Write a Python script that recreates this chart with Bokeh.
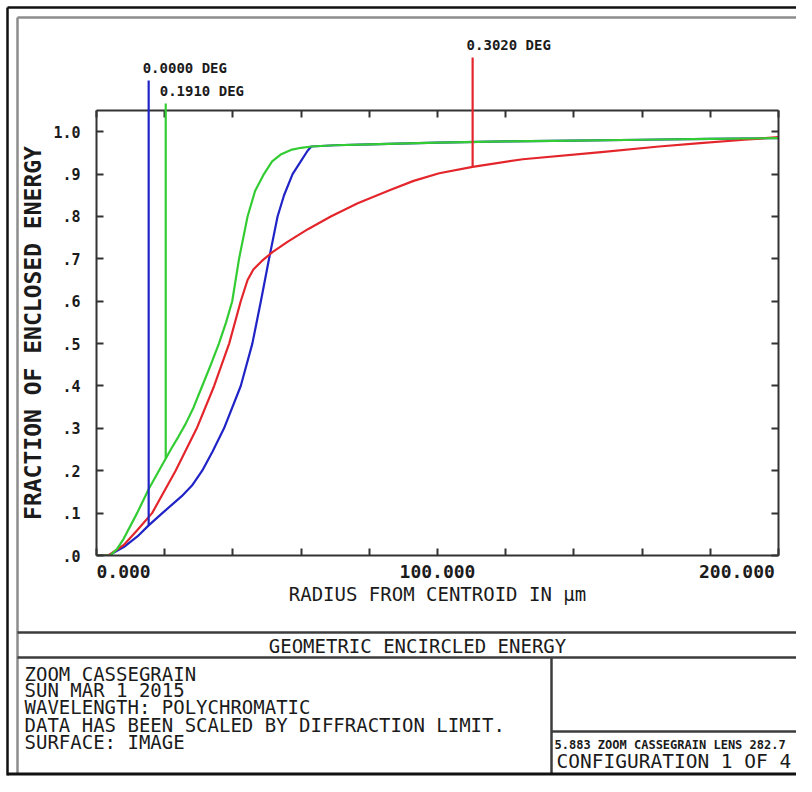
import numpy as np
from bokeh.plotting import figure
from bokeh.models import Range1d, LinearAxis, FixedTicker
from bokeh.core.properties import value
from bokeh.embed import file_html
from bokeh.resources import INLINE

# ---------------- data ----------------
radius_0000 = [0, 3.5, 8, 12, 15.3, 19.3, 25, 28, 31.0, 34.0, 37.4, 42.3, 45.7, 48.2, 50.6, 53.1,
               55.0, 57.5, 59.9, 61.9, 63, 70, 80, 100, 120, 140, 160, 180, 200]
ee_0000 = [0, 0, 0.02, 0.045, 0.071, 0.10, 0.14, 0.165, 0.20, 0.245, 0.30, 0.40, 0.50, 0.60, 0.70,
           0.80, 0.85, 0.90, 0.93, 0.955, 0.965, 0.968, 0.970, 0.974, 0.977, 0.979, 0.981, 0.983, 0.985]

radius_1910 = [0, 4, 6, 8, 11.9, 15.4, 18.3, 22, 24, 26.1, 28.5, 31.0, 33.5, 35.9, 38.0, 39.8, 41.8,
               44.3, 46.5, 49.1, 51.5, 54, 57, 60, 63, 70, 80, 100, 120, 140, 160, 180, 200]
ee_1910 = [0, 0, 0.015, 0.04, 0.10, 0.158, 0.20, 0.253, 0.28, 0.31, 0.35, 0.40, 0.45, 0.50, 0.55,
           0.60, 0.70, 0.80, 0.86, 0.90, 0.93, 0.946, 0.957, 0.962, 0.965, 0.968, 0.970, 0.974,
           0.977, 0.979, 0.981, 0.983, 0.985]

radius_3020 = [0, 3.5, 8, 12, 16.3, 23.2, 29.4, 34.5, 38.9, 42.3, 44.3, 46, 48.5, 51.6, 56,
               62, 68.7, 76.6, 86.3, 93, 100.5, 110.3, 125, 148, 165, 177, 190, 200]
ee_3020 = [0, 0, 0.025, 0.06, 0.10, 0.20, 0.30, 0.40, 0.50, 0.60, 0.65, 0.675, 0.695, 0.716, 0.74,
           0.77, 0.80, 0.831, 0.863, 0.884, 0.902, 0.917, 0.935, 0.952, 0.965, 0.973, 0.981, 0.987]

field_labels = ["0.0000 DEG", "0.1910 DEG", "0.3020 DEG"]
marker_radius = [15.3, 20.3, 110.3]
field_colors = ["#2024c6", "#33cc33", "#e3262c"]

x_ticks = [0, 20, 40, 60, 80, 100, 120, 140, 160, 180, 200]
x_tick_text = {0: "0.000", 100: "100.000", 200: "200.000"}
y_ticks = [0, 0.1, 0.2, 0.3, 0.4, 0.5, 0.6, 0.7, 0.8, 0.9, 1.0]
y_tick_text = [".0", ".1", ".2", ".3", ".4", ".5", ".6", ".7", ".8", ".9", "1.0"]

x_title = "RADIUS FROM CENTROID IN \u00b5m"
y_title = "FRACTION OF ENCLOSED ENERGY"
plot_title = "GEOMETRIC ENCIRCLED ENERGY"
info_lines = ["ZOOM CASSEGRAIN", "SUN MAR 1 2015", "WAVELENGTH: POLYCHROMATIC",
              "DATA HAS BEEN SCALED BY DIFFRACTION LIMIT.", "SURFACE: IMAGE"]
lens_line = "5.883 ZOOM CASSEGRAIN LENS 282.7"
config_line = "CONFIGURATION 1 OF 4"

# ---------------- layout ----------------
W, H = 796, 776
FL, FR, FT, FB = 96, 778, 110, 555          # frame edges in figure pixels
X0, X1, Y0, Y1 = 0, 200, 0, 1.05
FONT = "DejaVu Sans Mono"
FRAME = "#333333"
INK = "#1b1b1b"

p = figure(width=W, height=H, output_backend="svg", toolbar_location=None,
           x_range=Range1d(X0, X1), y_range=Range1d(Y0, Y1),
           x_axis_type=None, y_axis_type=None,
           min_border_left=FL, min_border_right=W - FR,
           min_border_top=FT, min_border_bottom=H - FB)
p.outline_line_color = None
p.background_fill_color = "white"
p.border_fill_color = "white"


def pg(px, py):  # figure pixel -> data coords (for page furniture)
    return (X0 + (px - FL) * (X1 - X0) / (FR - FL),
            Y0 + (FB - py) * (Y1 - Y0) / (FB - FT))


def style_axis(ax, ticks, overrides, label_size, show):
    ax.ticker = FixedTicker(ticks=ticks, minor_ticks=[])
    ax.major_label_overrides = overrides
    ax.major_tick_in = 7
    ax.major_tick_out = 0
    ax.major_tick_line_color = FRAME
    ax.major_tick_line_width = 2
    ax.minor_tick_line_color = None
    ax.axis_line_color = FRAME
    ax.axis_line_width = 2
    ax.major_label_text_font = FONT
    ax.major_label_text_font_style = "bold"
    ax.major_label_text_color = INK
    ax.major_label_text_font_size = label_size if show else "0px"
    if not show:
        ax.major_label_standoff = 0


nb = "\u00a0"
x_over = {}
for t in x_ticks:
    s = x_tick_text.get(t, "")
    if t == X0:
        s = nb * len(s) + s
    elif t == X1:
        s = s + nb * 2
    x_over[t] = s
y_over = {t: s for t, s in zip(y_ticks, y_tick_text)}

xb = LinearAxis()
style_axis(xb, x_ticks, x_over, "18px", True)
xb.major_label_standoff = 5
xb.axis_label = x_title
xb.axis_label_text_font = FONT
xb.axis_label_text_font_style = "normal"
xb.axis_label_text_font_size = "19px"
xb.axis_label_text_color = INK
xb.axis_label_standoff = -2
p.add_layout(xb, "below")

xt = LinearAxis()
style_axis(xt, x_ticks, {t: "" for t in x_ticks}, "0px", False)
p.add_layout(xt, "above")

yl = LinearAxis()
style_axis(yl, y_ticks, y_over, "15px", True)
yl.major_label_standoff = 16
yl.axis_label = y_title
yl.axis_label_text_font = FONT
yl.axis_label_text_font_style = "bold"
yl.axis_label_text_font_size = "23px"
yl.axis_label_text_color = INK
yl.axis_label_standoff = 4
p.add_layout(yl, "left")

yr = LinearAxis()
style_axis(yr, y_ticks, {t: "" for t in y_ticks}, "0px", False)
p.add_layout(yr, "right")

# ---------------- curves ----------------
series = [(radius_0000, ee_0000), (radius_1910, ee_1910), (radius_3020, ee_3020)]
for idx in [0, 2, 1]:
    r, e = series[idx]
    p.line(r, e, line_color=field_colors[idx], line_width=2.2, line_join="round")

# field markers: vertical line from the curve up to the field label
marker_top_px = [80, 103, 57]  # figure y where each marker line ends (layout)
mx, my0, my1 = [], [], []
for i, (r, e) in enumerate(series):
    xm = marker_radius[i]
    mx.append(xm)
    my0.append(float(np.interp(xm, r, e)))
    my1.append(pg(0, marker_top_px[i])[1])
p.segment(x0=mx, y0=my0, x1=mx, y1=my1, line_color=field_colors, line_width=2.2,
          level="overlay")
p.text(x=mx, y=my1, text=field_labels, text_font=value(FONT), text_font_style="bold",
       text_font_size=value("14px"), text_color=INK, text_align="left",
       text_baseline="bottom", x_offset=-6, y_offset=-5, level="overlay")

# ---------------- page frame & title block ----------------
segs = [
    # (x0, y0, x1, y1, colour, width) in figure pixels
    (7, 7, 7, 775, "#111111", 2.5),
    (7, 7, 796, 7, "#111111", 2.5),
    (17, 17, 17, 774, "#8c8c8c", 2.5),
    (17, 17, 796, 17, "#8c8c8c", 2.5),
    (17, 632, 796, 632, "#3c3c3c", 2.5),
    (17, 657, 796, 657, "#3c3c3c", 2.5),
    (551, 657, 551, 774, "#3c3c3c", 2.5),
    (551, 731, 796, 731, "#3c3c3c", 2.5),
    (7, 773.5, 796, 773.5, "#111111", 3),
]
sx0, sy0, sx1, sy1, sc, sw = [], [], [], [], [], []
for a, b, c, d, col, w in segs:
    xa, ya = pg(a, b)
    xc, yc = pg(c, d)
    sx0.append(xa); sy0.append(ya); sx1.append(xc); sy1.append(yc)
    sc.append(col); sw.append(w)
p.segment(x0=sx0, y0=sy0, x1=sx1, y1=sy1, line_color=sc, line_width=sw, level="overlay")

tx, ty = pg(417, 645)
p.text(x=[tx], y=[ty], text=[plot_title], text_font=value(FONT),
       text_font_size=value("19px"), text_color=INK, text_align="center",
       text_baseline="middle", level="overlay")

info_y = [673, 689.5, 706, 724, 741]
ix = [pg(24, yy)[0] for yy in info_y]
iy = [pg(24, yy)[1] for yy in info_y]
p.text(x=ix, y=iy, text=info_lines, text_font=value(FONT),
       text_font_size=value("19px"), text_color=INK, text_align="left",
       text_baseline="middle", level="overlay")

lx, ly = pg(554, 744)
p.text(x=[lx], y=[ly], text=[lens_line], text_font=value(FONT), text_font_style="bold",
       text_font_size=value("12px"), text_color=INK, text_align="left",
       text_baseline="middle", level="overlay")
cx, cy = pg(556, 761)
p.text(x=[cx], y=[cy], text=[config_line], text_font=value(FONT),
       text_font_size=value("19.5px"), text_color=INK, text_align="left",
       text_baseline="middle", level="overlay")

open("out.html", "w").write(file_html(p, INLINE))
